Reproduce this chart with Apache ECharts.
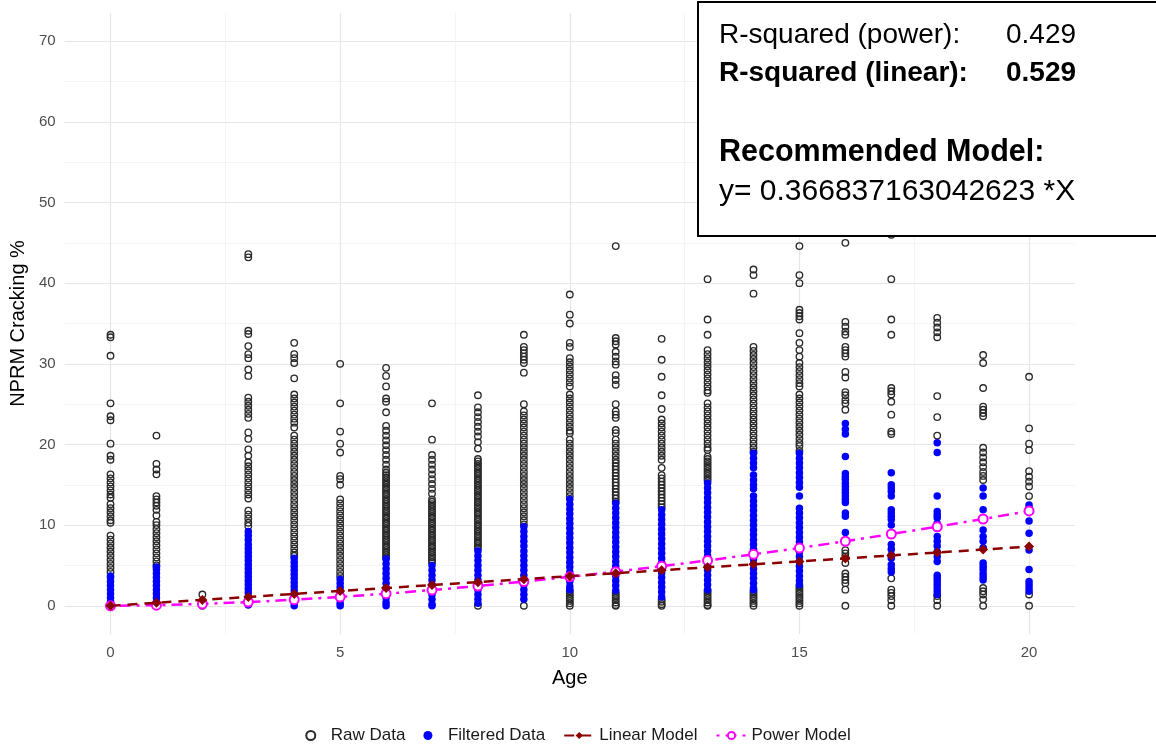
<!DOCTYPE html>
<html>
<head>
<meta charset="utf-8">
<script src="https://cdn.jsdelivr.net/npm/echarts@6/dist/echarts.min.js"></script>
<style>html,body{margin:0;padding:0;background:#fff;}#chart{width:1156px;height:746px;}</style>
</head>
<body>
<div id="chart"></div>
<script>
// ---- data ----
const ages = [0,1,2,3,4,5,6,7,8,9,10,11,12,13,14,15,16,17,18,19,20];

// Raw Data: NPRM Cracking % values per age (index = age)
const rawByAge = [
 [33.6,33.3,31.0,25.1,23.5,23.0,20.1,18.6,18.1,16.3,15.8,15.3,14.8,14.3,13.8,13.4,12.6,12.1,11.6,11.1,10.6,10.3,8.7,8.2,7.7,7.2,6.7,6.2,5.7,5.2,4.7,4.2],
 [21.1,17.6,16.9,16.3,13.6,13.2,12.8,12.4,11.9,11.2,10.4,10.0,9.5,9.0,8.5,8.0,7.5,7.0,6.5,6.0,5.5,5.0],
 [1.4,0.0],
 [43.6,43.2,34.1,33.7,32.2,31.2,30.7,29.3,28.5,25.8,25.3,24.8,24.3,23.8,23.3,21.5,20.7,19.4,18.6,17.8,17.3,16.8,16.3,15.8,15.3,14.8,14.3,13.8,13.3,11.8,11.3,10.8,10.3,9.9],
 [32.6,31.2,30.7,30.1,28.2,26.2,25.7,25.2,24.7,24.2,23.7,23.2,22.7,22.1,21.1,20.6,20.1,19.6,19.1,18.6,18.1,17.6,17.1,16.6,16.1,15.6,15.1,14.6,14.1,13.6,13.1,12.6,12.1,11.6,11.1,10.6,10.1,9.6,9.1,8.6,8.1,7.6,7.1,6.6,6.2],
 [30.0,25.1,21.6,20.1,19.0,16.1,15.7,15.0,13.2,12.7,12.2,11.7,11.2,10.7,10.2,9.7,9.2,8.7,8.2,7.7,7.2,6.7,6.2,5.7,5.2,4.7,4.2,3.7],
 [29.5,28.5,27.2,25.7,25.3,24.0,22.3,21.7,21.1,20.5,19.9,19.3,18.7,18.1,17.5,16.9,16.5,16.2,15.9,15.6,15.3,15.0,14.7,14.4,14.1,13.8,13.5,13.2,12.9,12.6,12.3,12.0,11.7,11.4,11.1,10.8,10.5,10.2,9.9,9.6,9.3,9.0,8.7,8.4,8.1,7.8,7.5,7.2,6.9,6.6,6.3,6.0],
 [25.1,20.6,18.7,18.1,17.5,16.9,16.3,15.7,15.1,14.5,13.9,13.2,12.9,12.6,12.3,12.0,11.7,11.4,11.1,10.8,10.5,10.2,9.9,9.6,9.3,9.0,8.7,8.4,8.1,7.8,7.5,7.2,6.9,6.6,6.3,6.0,5.7,5.4],
 [26.1,24.6,24.0,23.4,22.8,22.2,21.6,21.0,20.3,19.5,18.2,17.9,17.6,17.3,17.0,16.7,16.4,16.1,15.8,15.5,15.2,14.9,14.6,14.3,14.0,13.7,13.4,13.1,12.8,12.5,12.2,11.9,11.6,11.3,11.0,10.7,10.4,10.1,9.8,9.5,9.2,8.9,8.6,8.3,8.0,7.7,7.4,7.1,0.0],
 [33.6,32.1,31.7,31.3,30.9,30.5,30.1,28.9,25.0,24.1,23.6,23.1,22.6,22.1,21.6,21.1,20.6,20.1,19.6,19.1,18.6,18.1,17.6,17.1,16.6,16.1,15.6,15.1,14.6,14.1,13.6,13.1,12.6,12.1,11.6,11.1,10.6,10.1,0.0],
 [38.6,36.1,35.0,32.6,32.1,30.7,30.2,29.7,29.2,28.7,28.2,27.7,27.2,26.2,25.7,25.2,24.7,24.2,23.7,23.2,22.7,22.2,21.7,21.4,20.6,20.1,19.6,19.1,18.6,18.1,17.6,17.1,16.6,16.1,15.6,15.1,14.6,14.1,13.6,1.8,1.5,1.2,0.9,0.6,0.3,0.0],
 [44.6,33.2,32.8,32.4,31.5,30.9,30.3,29.9,28.6,28.0,27.4,25.0,24.1,23.7,23.3,21.8,21.4,20.6,20.1,19.6,19.1,18.6,18.1,17.7,17.3,16.9,16.5,16.1,15.7,15.3,14.9,14.5,14.1,13.7,13.3,12.9,1.6,1.3,1.0,0.7,0.4,0.1,0.0],
 [33.1,30.5,28.4,26.1,24.4,23.1,22.6,22.1,21.6,21.1,20.6,20.1,19.6,19.1,18.6,18.1,17.1,16.2,15.8,15.4,15.0,14.6,14.2,13.8,13.4,13.0,12.6,12.2,0.8,0.5,0.2,0.0],
 [40.5,35.5,33.6,31.7,31.2,30.7,30.2,29.7,29.2,28.7,28.2,27.7,27.2,26.7,26.4,25.1,24.6,24.1,23.6,23.1,22.6,22.1,21.6,21.1,20.6,20.1,19.6,19.3,18.5,18.2,17.9,17.6,17.3,17.0,16.7,16.4,16.1,15.8,15.5,1.9,1.6,1.3,1.0,0.7,0.4,0.1,0.0],
 [41.7,41.0,38.7,32.1,31.6,31.1,30.6,30.1,29.6,29.1,28.6,28.1,27.6,27.1,26.6,26.1,25.6,25.1,24.6,24.1,23.6,23.1,22.6,22.1,21.6,21.1,20.6,20.1,19.6,19.1,1.8,1.5,1.2,0.9,0.6,0.3,0.0],
 [44.6,41.0,40.0,36.7,36.3,35.9,35.5,33.8,32.6,31.7,30.9,30.1,29.6,29.1,28.6,28.1,27.6,27.2,26.2,25.7,25.2,24.7,24.2,23.7,23.2,22.7,22.2,21.7,21.2,20.7,20.2,19.8,19.2,2.4,2.1,1.8,1.5,1.2,0.9,0.6,0.3,0.0],
 [45.0,35.2,34.6,34.0,33.6,32.1,31.7,31.3,30.9,29.0,28.3,26.5,26.1,25.5,25.1,24.3,6.9,6.5,6.1,5.3,4.0,3.6,3.2,2.8,2.0,0.0],
 [46.0,40.5,35.5,33.6,27.0,26.6,26.2,25.3,23.7,21.6,21.3,3.4,2.0,1.6,1.2,0.7,0.0],
 [35.7,35.1,34.5,33.9,33.3,26.0,23.4,21.1,1.2,0.7,0.0],
 [31.1,30.1,27.0,24.7,24.3,23.9,23.5,19.6,19.0,18.4,17.8,17.2,16.6,16.1,15.6,2.2,1.8,1.4,0.8,0.0],
 [28.4,22.0,20.1,19.3,16.7,16.0,15.4,14.8,13.6,1.4,0.0]
];

// Filtered Data values per age (index = age)
const filteredByAge = [
 [0.0,0.5,1.0,1.5,2.0,2.5,3.0,3.5,3.7],
 [0.0,0.5,1.0,1.5,2.0,2.5,3.0,3.5,4.0,4.5,4.8],
 [],
 [9.2,8.7,8.2,7.6,7.1,6.6,6.1,5.6,5.1,4.6,4.1,3.6,3.1,2.6,2.1,1.6,1.1,0.6,0.1],
 [5.9,5.4,4.9,4.4,3.9,3.4,2.9,2.4,1.9,1.4,0.9,0.4,0.0],
 [3.3,2.8,2.3,1.8,1.3,0.8,0.3,0.0],
 [5.8,5.2,4.6,4.0,3.4,2.8,2.2,1.6,1.0,0.4,0.0],
 [5.0,4.4,3.8,3.2,2.6,2.0,1.4,0.8,0.2,0.0],
 [6.8,6.2,5.6,5.0,4.4,3.8,3.2,2.6,2.0,1.4,0.8,0.3],
 [9.8,9.2,8.6,8.0,7.4,6.8,6.2,5.6,5.0,4.4,3.8,3.2,2.6,2.0,1.4,0.8],
 [13.2,12.6,12.0,11.4,10.8,10.2,9.6,9.0,8.4,7.8,7.2,6.6,6.0,5.4,4.8,4.2,3.6,3.0,2.4,2.0],
 [12.7,12.1,11.5,10.9,10.3,9.7,9.1,8.5,7.9,7.3,6.7,6.1,5.5,4.9,4.3,3.7,3.1,2.5,1.9],
 [11.9,11.3,10.7,10.1,9.5,8.9,8.3,7.7,7.1,6.5,5.9,5.3,4.7,4.1,3.5,2.9,2.3,1.7,1.1],
 [15.2,14.6,14.0,13.4,12.8,12.2,11.6,11.0,10.4,9.8,9.2,8.6,8.0,7.4,6.8,6.2,5.6,5.0,4.4,3.8,3.2,2.6,2.0],
 [18.9,18.3,17.7,17.1,16.2,15.6,15.0,14.5,13.6,13.0,12.4,11.8,11.2,10.6,10.0,9.4,8.8,8.2,7.6,7.0,6.4,5.8,5.2,4.6,4.0,3.4,2.8,2.2,2.0],
 [18.9,18.3,17.7,17.1,16.5,15.9,15.3,14.7,13.6,12.1,11.5,10.9,10.3,9.7,9.1,8.5,7.9,7.3,6.7,6.1,5.5,4.9,4.3,3.7,3.1,2.6],
 [22.6,21.9,21.3,18.5,16.4,16.0,15.7,15.2,14.8,14.4,14.0,13.6,13.2,12.8,11.5,11.1,9.1,8.2],
 [16.5,15.0,14.6,14.2,13.6,11.9,11.5,11.1,10.7,10.0,9.0,7.6,7.0,6.3,5.9,5.1,4.6,4.2],
 [20.2,19.0,13.6,11.7,11.3,10.9,10.2,9.6,8.6,8.0,7.4,6.7,6.1,5.5,3.8,3.4,3.0,2.6,2.2,1.8,1.4],
 [14.6,13.6,11.9,10.7,9.4,8.6,8.0,7.2,5.3,4.9,4.5,4.0,3.6,3.2],
 [12.5,12.1,11.7,10.5,9.0,6.9,4.5,3.0,2.6,2.2,1.8]
];

const linearModel = [0,0.37,0.73,1.10,1.47,1.83,2.20,2.57,2.93,3.30,3.67,4.04,4.40,4.77,5.14,5.50,5.87,6.24,6.60,6.97,7.34];
const powerModel  = [0,0.07,0.23,0.46,0.75,1.10,1.50,1.95,2.45,3.00,3.59,4.23,4.90,5.62,6.39,7.16,8.00,8.90,9.80,10.76,11.76];

const xMajorTicks = [0,5,10,15,20];
const xMinorTicks = [2.5,7.5,12.5,17.5];
const yMajorTicks = [0,10,20,30,40,50,60,70];
const yMinorTicks = [5,15,25,35,45,55,65];

const seriesNames = ['Raw Data','Filtered Data','Linear Model','Power Model'];
const infoLines = ['R-squared (power):', '0.429', 'R-squared (linear):', '0.529', 'Recommended Model:', 'y= 0.366837163042623 *X'];

// ---- build ----
const rawPoints = [];
rawByAge.forEach((vals, i) => vals.forEach(v => rawPoints.push([ages[i], v])));
const filteredPoints = [];
filteredByAge.forEach((vals, i) => vals.forEach(v => filteredPoints.push([ages[i], v])));
const linearPoints = ages.map((a, i) => [a, linearModel[i]]);
const powerPoints = ages.map((a, i) => [a, powerModel[i]]);

const FONT = '"Liberation Sans", Arial, sans-serif';
const gridMajor = '#e6e6e6';
const gridMinor = '#efefef';

const boxZ = {zlevel: 1, z: 100};

const chart = echarts.init(document.getElementById('chart'), null, {renderer: 'canvas'});
chart.setOption({
  animation: false,
  backgroundColor: '#ffffff',
  textStyle: {fontFamily: FONT},
  grid: {left: 62, right: 81, top: 13, bottom: 112, containLabel: false},
  xAxis: [
    {
      type: 'value', min: -1, max: 21,
      name: 'Age', nameLocation: 'middle', nameGap: 34,
      nameTextStyle: {fontSize: 20, color: '#000', fontFamily: FONT},
      axisLine: {show: false},
      axisTick: {show: false, customValues: xMajorTicks},
      axisLabel: {customValues: xMajorTicks, color: '#4d4d4d', fontSize: 15, margin: 11, fontFamily: FONT},
      splitLine: {show: true, lineStyle: {color: gridMajor, width: 1.2}}
    },
    {
      type: 'value', min: -1, max: 21, position: 'top',
      axisLine: {show: false},
      axisTick: {show: false, customValues: xMinorTicks},
      axisLabel: {show: false, customValues: xMinorTicks},
      splitLine: {show: true, lineStyle: {color: gridMinor, width: 0.7}}
    }
  ],
  yAxis: [
    {
      type: 'value', min: -3.5, max: 73.5,
      name: 'NPRM Cracking %', nameLocation: 'middle', nameGap: 32, nameRotate: 90,
      nameTextStyle: {fontSize: 20, color: '#000', fontFamily: FONT},
      axisLine: {show: false},
      axisTick: {show: false, customValues: yMajorTicks},
      axisLabel: {customValues: yMajorTicks, color: '#4d4d4d', fontSize: 15, margin: 9, fontFamily: FONT},
      splitLine: {show: true, lineStyle: {color: gridMajor, width: 1.2}}
    },
    {
      type: 'value', min: -3.5, max: 73.5, position: 'right',
      axisLine: {show: false},
      axisTick: {show: false, customValues: yMinorTicks},
      axisLabel: {show: false, customValues: yMinorTicks},
      splitLine: {show: true, lineStyle: {color: gridMinor, width: 0.7}}
    }
  ],
  legend: {
    data: seriesNames,
    left: 'center', top: 722,
    itemWidth: 30, itemHeight: 9, itemGap: 18,
    textStyle: {fontSize: 17, color: '#1a1a1a', fontFamily: FONT}
  },
  series: [
    {
      name: seriesNames[0], type: 'scatter', data: rawPoints,
      symbol: 'circle', symbolSize: 6.5,
      itemStyle: {color: 'rgba(255,255,255,0)', borderColor: '#2a2a2a', borderWidth: 1.35, opacity: 1},
      z: 2
    },
    {
      name: seriesNames[1], type: 'scatter', data: filteredPoints,
      symbol: 'circle', symbolSize: 7.5,
      itemStyle: {color: '#0000ff', opacity: 1},
      z: 3
    },
    {
      name: seriesNames[3], type: 'line', data: powerPoints,
      symbol: 'emptyCircle', symbolSize: 9, showAllSymbol: true,
      itemStyle: {color: '#ff00ff', borderColor: '#ff00ff', borderWidth: 1.5},
      lineStyle: {color: '#ff00ff', width: 2.5, type: [3, 6, 11, 6]},
      z: 4
    },
    {
      name: seriesNames[2], type: 'line', data: linearPoints,
      symbol: 'diamond', symbolSize: 10, showAllSymbol: true,
      itemStyle: {color: '#8b0000'},
      lineStyle: {color: '#8b0000', width: 2.5, type: [10, 7]},
      z: 5
    }
  ],
  graphic: [
    Object.assign({type: 'rect', silent: true, shape: {x: 698, y: 2, width: 480, height: 234},
      style: {fill: '#ffffff', stroke: '#000000', lineWidth: 2}}, boxZ),
    Object.assign({type: 'text', silent: true, x: 719, y: 35, style: {text: infoLines[0], font: '28px ' + FONT, fill: '#000', textVerticalAlign: 'middle'}}, boxZ, {z: 101}),
    Object.assign({type: 'text', silent: true, x: 1006, y: 35, style: {text: infoLines[1], font: '28px ' + FONT, fill: '#000', textVerticalAlign: 'middle'}}, boxZ, {z: 101}),
    Object.assign({type: 'text', silent: true, x: 719, y: 73, style: {text: infoLines[2], font: 'bold 28px ' + FONT, fill: '#000', textVerticalAlign: 'middle'}}, boxZ, {z: 101}),
    Object.assign({type: 'text', silent: true, x: 1006, y: 73, style: {text: infoLines[3], font: 'bold 28px ' + FONT, fill: '#000', textVerticalAlign: 'middle'}}, boxZ, {z: 101}),
    Object.assign({type: 'text', silent: true, x: 719, y: 153, style: {text: infoLines[4], font: 'bold 30.5px ' + FONT, fill: '#000', textVerticalAlign: 'middle'}}, boxZ, {z: 101}),
    Object.assign({type: 'text', silent: true, x: 719, y: 192, style: {text: infoLines[5], font: '30px ' + FONT, fill: '#000', textVerticalAlign: 'middle'}}, boxZ, {z: 101})
  ]
});
</script>
</body>
</html>
